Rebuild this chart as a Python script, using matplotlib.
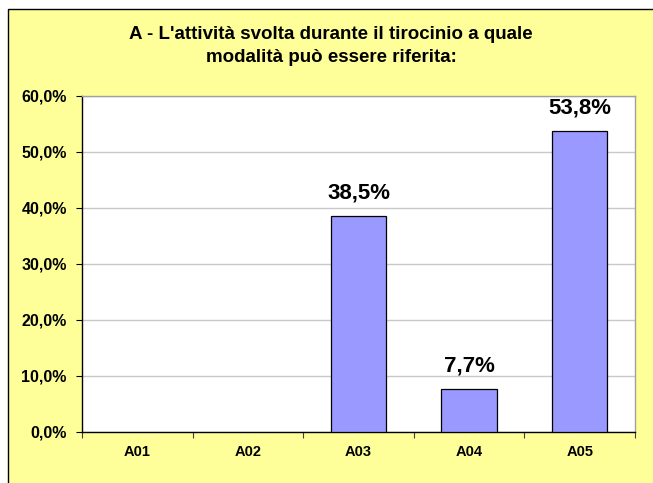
import matplotlib
matplotlib.use("Agg")
import matplotlib.pyplot as plt
from matplotlib.patches import Rectangle

categories = ["A01", "A02", "A03", "A04", "A05"]
values = [0.0, 0.0, 38.5, 7.7, 53.8]
labels = ["", "", "38,5%", "7,7%", "53,8%"]
yticks = [0, 10, 20, 30, 40, 50, 60]
ytick_labels = ["0,0%", "10,0%", "20,0%", "30,0%", "40,0%", "50,0%", "60,0%"]
title = "A - L'attività svolta durante il tirocinio a quale\nmodalità può essere riferita:"

plt.rcParams['font.family'] = ['Liberation Sans', 'DejaVu Sans']

W, H = 653, 483
fig = plt.figure(figsize=(W / 100, H / 100), dpi=100)
fig.patch.set_facecolor("white")

# chart area background
bg = Rectangle((8 / W, -0.01), 1.02, (H - 9) / H + 0.01, transform=fig.transFigure,
               facecolor="#FFFF99", edgecolor="black", linewidth=1.0, zorder=-10)
fig.patches.append(bg)

ax = fig.add_axes([82 / W, 1 - 432 / H, (635 - 82) / W, (432 - 96) / H])
ax.set_zorder(1)
ax.set_facecolor("white")
x = list(range(len(categories)))
edges = ["black" if v > 0 else "none" for v in values]
ax.bar(x, values, width=0.5, color="#9999FF", edgecolor=edges, linewidth=0.9, zorder=3)

ax.set_xlim(-0.5, len(categories) - 0.5)
ax.set_ylim(0, 60)
ax.set_yticks(yticks)
ax.set_yticklabels(ytick_labels, fontsize=11.5, fontweight="bold")
ax.set_xticks(x)
ax.set_xticklabels(categories, fontsize=10.5, fontweight="bold")
ax.tick_params(axis="x", length=0, pad=9)
ax.set_xticks([i - 0.5 for i in range(len(categories) + 1)], minor=True)
ax.tick_params(axis="x", which="minor", length=4, direction="out", width=0.8, color="#404040")
ax.tick_params(axis="y", length=4, direction="out", width=0.8, pad=7)
ax.yaxis.grid(True, color="#C8C8C8", linewidth=1.0, zorder=0)
ax.set_axisbelow(True)

for s in ["top", "right"]:
    ax.spines[s].set_color("#A0A0A0")
    ax.spines[s].set_linewidth(1.0)
for s in ["left", "bottom"]:
    ax.spines[s].set_color("black")
    ax.spines[s].set_linewidth(1.0)

for xi, v, lab in zip(x, values, labels):
    if lab:
        ax.annotate(lab, (xi, v), xytext=(0, 9), textcoords="offset points",
                    ha="center", va="bottom", fontsize=16, fontweight="bold")

fig.text(331 / W, 1 - 46 / H, title, ha="center", va="center", fontsize=13.5,
         fontweight="bold", linespacing=1.4)

fig.savefig("out.png", dpi=100)
